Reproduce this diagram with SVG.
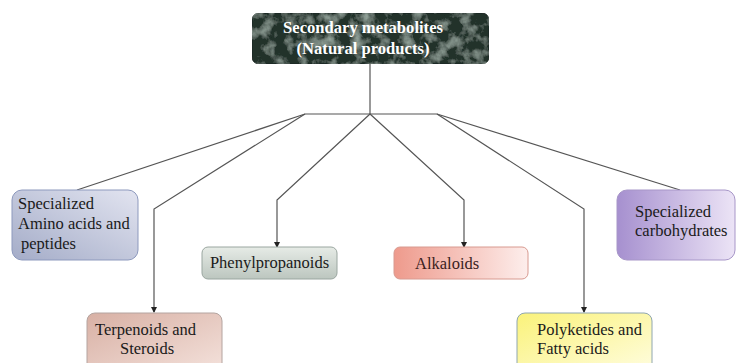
<svg xmlns="http://www.w3.org/2000/svg" width="737" height="363" viewBox="0 0 737 363">
<style>
.t{font-family:"Liberation Serif","Times New Roman",serif;font-size:16.5px;fill:#1a1a1a}
.w{font-family:"Liberation Serif","Times New Roman",serif;font-size:16.6px;font-weight:bold;fill:#ffffff}
.c{fill:none;stroke:#555;stroke-width:1.2}
.b{stroke-width:1}
</style>
<defs>
<marker id="ah" viewBox="0 0 6 6" refX="5" refY="3" markerWidth="5" markerHeight="5" orient="auto"><path d="M0,0 L6,3 L0,6 z" fill="#222"/></marker>
<linearGradient id="gAmino" x1="0" y1="1" x2="1" y2="0"><stop offset="0" stop-color="#a4acc8"/><stop offset="1" stop-color="#e2e4f0"/></linearGradient>
<linearGradient id="gCarb" x1="0" y1="0" x2="1" y2="0"><stop offset="0" stop-color="#a690cf"/><stop offset="1" stop-color="#ece4f6"/></linearGradient>
<linearGradient id="gPhen" x1="0" y1="0" x2="0" y2="1"><stop offset="0" stop-color="#e6ebe6"/><stop offset="1" stop-color="#bcc6bf"/></linearGradient>
<linearGradient id="gAlk" x1="0" y1="0" x2="1" y2="0"><stop offset="0" stop-color="#ee9a8c"/><stop offset="1" stop-color="#fdeeec"/></linearGradient>
<linearGradient id="gTerp" x1="0" y1="0" x2="1" y2="1"><stop offset="0" stop-color="#d8b0a4"/><stop offset="1" stop-color="#f4e2dc"/></linearGradient>
<linearGradient id="gPoly" x1="0" y1="0" x2="1" y2="1"><stop offset="0" stop-color="#faf27a"/><stop offset="1" stop-color="#fffde0"/></linearGradient>
<filter id="marble" x="0" y="0" width="100%" height="100%">
<feTurbulence type="fractalNoise" baseFrequency="0.08" numOctaves="4" seed="3" result="n"/>
<feColorMatrix in="n" type="matrix" values="0 0 0 0 0.36  0 0 0 0 0.45  0 0 0 0 0.40  1.6 -0.8 0 0 -0.3" result="m"/>
<feComposite in="m" in2="SourceGraphic" operator="in" result="mm"/>
<feMerge><feMergeNode in="SourceGraphic"/><feMergeNode in="mm"/></feMerge>
</filter>
</defs>
<g id="connectors">
<polyline class="c" points="370,64 370,114"/>
<polyline class="c" points="305,114 437,114"/>
<polyline class="c" points="305,114 77,190"/>
<polyline class="c" points="305,114 154,209 154,312" marker-end="url(#ah)"/>
<polyline class="c" points="370,114 277,200 277,247" marker-end="url(#ah)"/>
<polyline class="c" points="370,114 464,200 464,247" marker-end="url(#ah)"/>
<polyline class="c" points="437,114 584,209 584,312" marker-end="url(#ah)"/>
<polyline class="c" points="437,114 680,190"/>
</g>
<g id="root">
<rect x="252" y="13" width="237" height="51" rx="7" fill="#22312b" stroke="#1a2520" filter="url(#marble)"/>
<text class="w" x="363" y="33" text-anchor="middle">Secondary metabolites</text>
<text class="w" x="363" y="54" text-anchor="middle">(Natural products)</text>
</g>
<g id="amino">
<rect class="b" x="12" y="190" width="126" height="70" rx="10" fill="url(#gAmino)" stroke="#8d99bd"/>
<text class="t" x="18" y="209">Specialized</text>
<text class="t" x="18" y="229">Amino acids and</text>
<text class="t" x="21" y="249">peptides</text>
</g>
<g id="terpenoids">
<rect class="b" x="87" y="313" width="135" height="60" rx="8" fill="url(#gTerp)" stroke="#b4a4a0"/>
<text class="t" x="95" y="335">Terpenoids and</text>
<text class="t" x="120" y="354">Steroids</text>
</g>
<g id="phenylpropanoids">
<rect class="b" x="202" y="247" width="135" height="32" rx="6" fill="url(#gPhen)" stroke="#9aa6a0"/>
<text class="t" x="269.5" y="268" text-anchor="middle">Phenylpropanoids</text>
</g>
<g id="alkaloids">
<rect class="b" x="394" y="247" width="134" height="32" rx="6" fill="url(#gAlk)" stroke="#d89a90"/>
<text class="t" x="415" y="269" style="fill:#3a1c1c">Alkaloids</text>
</g>
<g id="polyketides">
<rect class="b" x="517" y="313" width="135" height="60" rx="8" fill="url(#gPoly)" stroke="#8fa6b0"/>
<text class="t" x="537" y="335">Polyketides and</text>
<text class="t" x="537" y="354">Fatty acids</text>
</g>
<g id="carbohydrates">
<rect class="b" x="617" y="190" width="118" height="70" rx="10" fill="url(#gCarb)" stroke="#a796c8"/>
<text class="t" x="635" y="217">Specialized</text>
<text class="t" x="635" y="236">carbohydrates</text>
</g>
</svg>
